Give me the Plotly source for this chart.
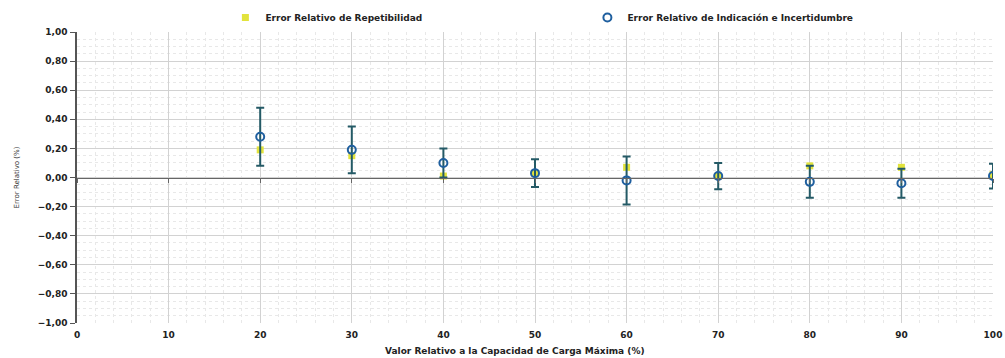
import plotly.graph_objects as go

# Data
carga_pct = [20, 30, 40, 50, 60, 70, 80, 90, 100]
error_repetibilidad = [0.19, 0.15, 0.01, 0.03, 0.07, 0.01, 0.08, 0.07, 0.02]
error_indicacion = [0.28, 0.19, 0.10, 0.03, -0.02, 0.01, -0.03, -0.04, 0.01]
incertidumbre = [0.20, 0.16, 0.10, 0.095, 0.165, 0.09, 0.11, 0.10, 0.085]

x_ticks = [0, 10, 20, 30, 40, 50, 60, 70, 80, 90, 100]
y_ticks = [-1.0, -0.8, -0.6, -0.4, -0.2, 0.0, 0.2, 0.4, 0.6, 0.8, 1.0]

FONT = "DejaVu Sans, Verdana, sans-serif"
TXT = "#222222"

fig = go.Figure()

fig.add_trace(go.Scatter(
    x=carga_pct, y=error_repetibilidad, mode="markers",
    name="Error Relativo de Repetibilidad",
    marker=dict(symbol="square", size=7, color="#e2e33c"),
))

fig.add_trace(go.Scatter(
    x=carga_pct, y=error_indicacion, mode="markers",
    name="Error Relativo de Indicación e Incertidumbre",
    marker=dict(symbol="circle-open", size=8, color="#1f5f9f", line=dict(width=2, color="#1f5f9f")),
    error_y=dict(type="data", array=incertidumbre, visible=True,
                 color="#245a66", thickness=2, width=4),
))

# dummy trace for the axis drawn at y = 0
fig.add_trace(go.Scatter(x=[None], y=[None], xaxis="x2", showlegend=False, hoverinfo="skip"))

fig.update_layout(
    width=1005, height=358,
    margin=dict(l=77, r=12, t=32, b=35, autoexpand=False),
    paper_bgcolor="white", plot_bgcolor="white",
    separators=",.",
    font=dict(family=FONT, size=9, color=TXT),
    showlegend=True,
    legend=dict(orientation="h", x=0.162, xanchor="left", y=1.0, yanchor="bottom",
                font=dict(family=FONT, size=9, color=TXT, weight="bold"),
                itemwidth=30, entrywidth=317, bgcolor="rgba(0,0,0,0)",
                tracegroupgap=0),
    xaxis=dict(
        range=[0, 100], tickvals=x_ticks, showline=False, ticks="",
        showgrid=True, gridcolor="#d2d2d2", gridwidth=1, zeroline=False,
        minor=dict(dtick=2, showgrid=True, gridcolor="#e8e8e8", griddash="dot", gridwidth=1),
        tickfont=dict(family=FONT, size=9, color=TXT, weight="bold"),
        ticklabelstandoff=5,
    ),
    xaxis2=dict(
        range=[0, 100], tickvals=x_ticks, overlaying="x", anchor="free", position=0.5,
        side="bottom", showline=True, linecolor="#666666", linewidth=1.2,
        ticks="outside", ticklen=4, tickcolor="#666666", tickwidth=1,
        showticklabels=False, showgrid=False, zeroline=False,
    ),
    yaxis=dict(
        range=[-1, 1], tickvals=y_ticks, tickformat=".2f",
        showline=True, linecolor="#555555", linewidth=1.5,
        ticks="outside", ticklen=5, tickcolor="#555555",
        showgrid=True, gridcolor="#d2d2d2", gridwidth=1, zeroline=False,
        minor=dict(dtick=0.05, showgrid=True, gridcolor="#e8e8e8", griddash="dot", gridwidth=1),
        tickfont=dict(family=FONT, size=9, color=TXT, weight="bold"),
        ticklabelstandoff=1,
        title=dict(text="Error Relativo (%)",
                   font=dict(family=FONT, size=7, color="#333333"), standoff=17),
    ),
    annotations=[dict(
        text="Valor Relativo a la Capacidad de Carga Máxima (%)",
        xref="paper", yref="paper", x=0.478, y=-0.096,
        xanchor="center", yanchor="middle", showarrow=False,
        font=dict(family=FONT, size=9, color=TXT, weight="bold"),
    )],
)

fig.write_html(
    "out.html",
    config={"displayModeBar": False},
    post_script="document.body.style.margin='0';document.body.style.overflow='hidden';",
)
